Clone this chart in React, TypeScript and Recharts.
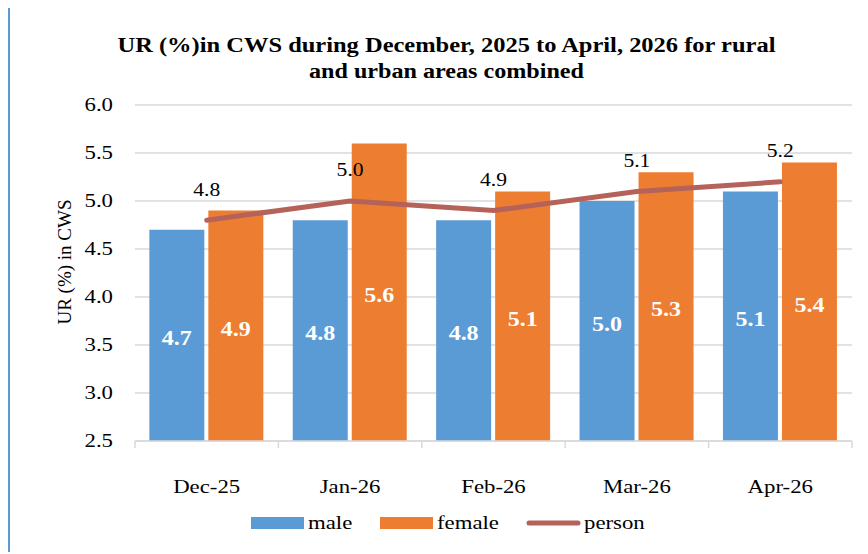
import React from "react";
import { ComposedChart, Bar, Line, XAxis, YAxis, CartesianGrid, LabelList, Legend } from "recharts";

const categories = ["Dec-25", "Jan-26", "Feb-26", "Mar-26", "Apr-26"];
const maleValues = [4.7, 4.8, 4.8, 5.0, 5.1];
const femaleValues = [4.9, 5.6, 5.1, 5.3, 5.4];
const personValues = [4.8, 5.0, 4.9, 5.1, 5.2];
const yTicks = [2.5, 3.0, 3.5, 4.0, 4.5, 5.0, 5.5, 6.0];
const titleLines = [
  "UR (%)in CWS during December, 2025 to April, 2026 for rural",
  "and urban areas combined",
];
const yAxisTitle = "UR (%) in CWS";
const seriesNames = ["male", "female", "person"];

const data = categories.map((c, i) => ({
  month: c,
  male: maleValues[i],
  female: femaleValues[i],
  person: personValues[i],
}));

const FONT = "Liberation Serif, Times New Roman, serif";
const MALE = "#5B9BD5";
const FEMALE = "#ED7D31";
const PERSON = "#B5625A";
const GRID = "#D9D9D9";
const SX = 1.2;

const CHART_W = 858;
const CHART_H = 544;
const MARGIN = { top: 97, right: 16, bottom: 51, left: 0 };
const Y_W = 125;
const PLOT_W = CHART_W - MARGIN.right - MARGIN.left - Y_W;
const BAND = PLOT_W / categories.length;

const SText = (p: any) => {
  const { x, y, children, ...rest } = p;
  return (
    <text
      x={x}
      y={y}
      transform={`translate(${x} 0) scale(${SX} 1) translate(${-x} 0)`}
      fontFamily={FONT}
      dominantBaseline="central"
      {...rest}
    >
      {children}
    </text>
  );
};

const XTick = (props: any) => {
  const { x, y, payload, index } = props;
  const half = BAND / 2;
  return (
    <g>
      <line x1={x - half} x2={x - half} y1={y} y2={y + 7} stroke={GRID} strokeWidth={1.5} />
      {index === categories.length - 1 && (
        <line x1={x + half} x2={x + half} y1={y} y2={y + 7} stroke={GRID} strokeWidth={1.5} />
      )}
      <SText x={x} y={y + 46} textAnchor="middle" fontSize={19} fill="#000">
        {payload.value}
      </SText>
    </g>
  );
};

const YTick = (props: any) => {
  const { x, y, payload } = props;
  return (
    <SText x={x} y={y} textAnchor="end" fontSize={19} fill="#000">
      {Number(payload.value).toFixed(1)}
    </SText>
  );
};

const YLabel = (props: any) => {
  const vb = props.viewBox || {};
  const cx = (vb.x || 0) + 54;
  const cy = 254;
  return (
    <text
      x={cx}
      y={cy}
      transform={`rotate(-90, ${cx}, ${cy})`}
      textAnchor="middle"
      dominantBaseline="central"
      fontFamily={FONT}
      fontSize={19}
      fill="#000"
    >
      {yAxisTitle}
    </text>
  );
};

const PersonLabel = (props: any) => {
  const { x, y, value } = props;
  return (
    <SText x={x} y={y - 31} textAnchor="middle" fontSize={18} fill="#000">
      {Number(value).toFixed(1)}
    </SText>
  );
};

const BarLabel = (props: any) => {
  const { x, y, width, height, value } = props;
  const cx = x + width / 2;
  return (
    <SText x={cx} y={y + height / 2 + 3} textAnchor="middle" fontWeight="bold" fontSize={20} fill="#fff">
      {Number(value).toFixed(1)}
    </SText>
  );
};

const LegendContent = () => {
  const colors = [MALE, FEMALE, PERSON];
  const textW = [48, 66, 66];
  const swW = 53;
  const gapSw = 4;
  const gapItem = 24;
  const total = textW.reduce((a, b) => a + b, 0) + 3 * (swW + gapSw) + 2 * gapItem;
  let cur = (881 - total) / 2;
  const items = seriesNames.map((name, i) => {
    const x0 = cur;
    cur += swW + gapSw + textW[i] + gapItem;
    return (
      <g key={name}>
        {i < 2 ? (
          <rect x={x0} y={6} width={swW} height={12} fill={colors[i]} />
        ) : (
          <line x1={x0 + 2} x2={x0 + swW - 2} y1={12} y2={12} stroke={colors[i]} strokeWidth={5} strokeLinecap="round" />
        )}
        <SText x={x0 + swW + gapSw} y={12} textAnchor="start" fontSize={19} fill="#000">
          {name}
        </SText>
      </g>
    );
  });
  return (
    <svg width={881} height={24} style={{ display: "block" }}>
      {items}
    </svg>
  );
};

export default function App() {
  return (
    <div
      style={{
        position: "relative",
        width: CHART_W,
        height: CHART_H,
        marginTop: -2,
        borderTop: `2px solid ${MALE}`,
        borderLeft: `2px solid ${MALE}`,
        background: "#fff",
      }}
    >
      <svg
        width={872}
        height={90}
        style={{ position: "absolute", top: 0, left: 0, zIndex: 2, pointerEvents: "none" }}
      >
        <text x={436.5} y={37} textAnchor="middle" dominantBaseline="central" fontFamily={FONT} fontWeight="bold" fontSize={20} textLength={658} lengthAdjust="spacingAndGlyphs" fill="#000">
          {titleLines[0]}
        </text>
        <text x={436.5} y={63} textAnchor="middle" dominantBaseline="central" fontFamily={FONT} fontWeight="bold" fontSize={20} textLength={275} lengthAdjust="spacingAndGlyphs" fill="#000">
          {titleLines[1]}
        </text>
      </svg>
      <ComposedChart
        width={CHART_W}
        height={CHART_H}
        data={data}
        margin={MARGIN}
        barCategoryGap="10%"
        barGap={4}
      >
        <CartesianGrid vertical={false} stroke={GRID} strokeWidth={1.5} />
        <XAxis
          dataKey="month"
          stroke={GRID}
          strokeWidth={1.5}
          tickLine={false}
          tickSize={0}
          tickMargin={0}
          height={60}
          interval={0}
          tick={<XTick />}
        />
        <YAxis
          width={Y_W}
          domain={[2.5, 6]}
          ticks={yTicks}
          axisLine={false}
          tickLine={false}
          tickSize={0}
          tickMargin={22}
          tick={<YTick />}
          label={<YLabel />}
        />
        <Legend
          layout="horizontal"
          verticalAlign="middle"
          align="center"
          wrapperStyle={{ top: 503, left: 0, width: 881, height: 24 }}
          content={<LegendContent />}
        />
        <Bar dataKey="male" fill={MALE} isAnimationActive={false}>
          <LabelList dataKey="male" content={<BarLabel />} />
        </Bar>
        <Bar dataKey="female" fill={FEMALE} isAnimationActive={false}>
          <LabelList dataKey="female" content={<BarLabel />} />
        </Bar>
        <Line
          dataKey="person"
          stroke={PERSON}
          strokeWidth={5}
          dot={false}
          activeDot={false}
          strokeLinecap="round"
          isAnimationActive={false}
        >
          <LabelList dataKey="person" content={<PersonLabel />} />
        </Line>
      </ComposedChart>
    </div>
  );
}
